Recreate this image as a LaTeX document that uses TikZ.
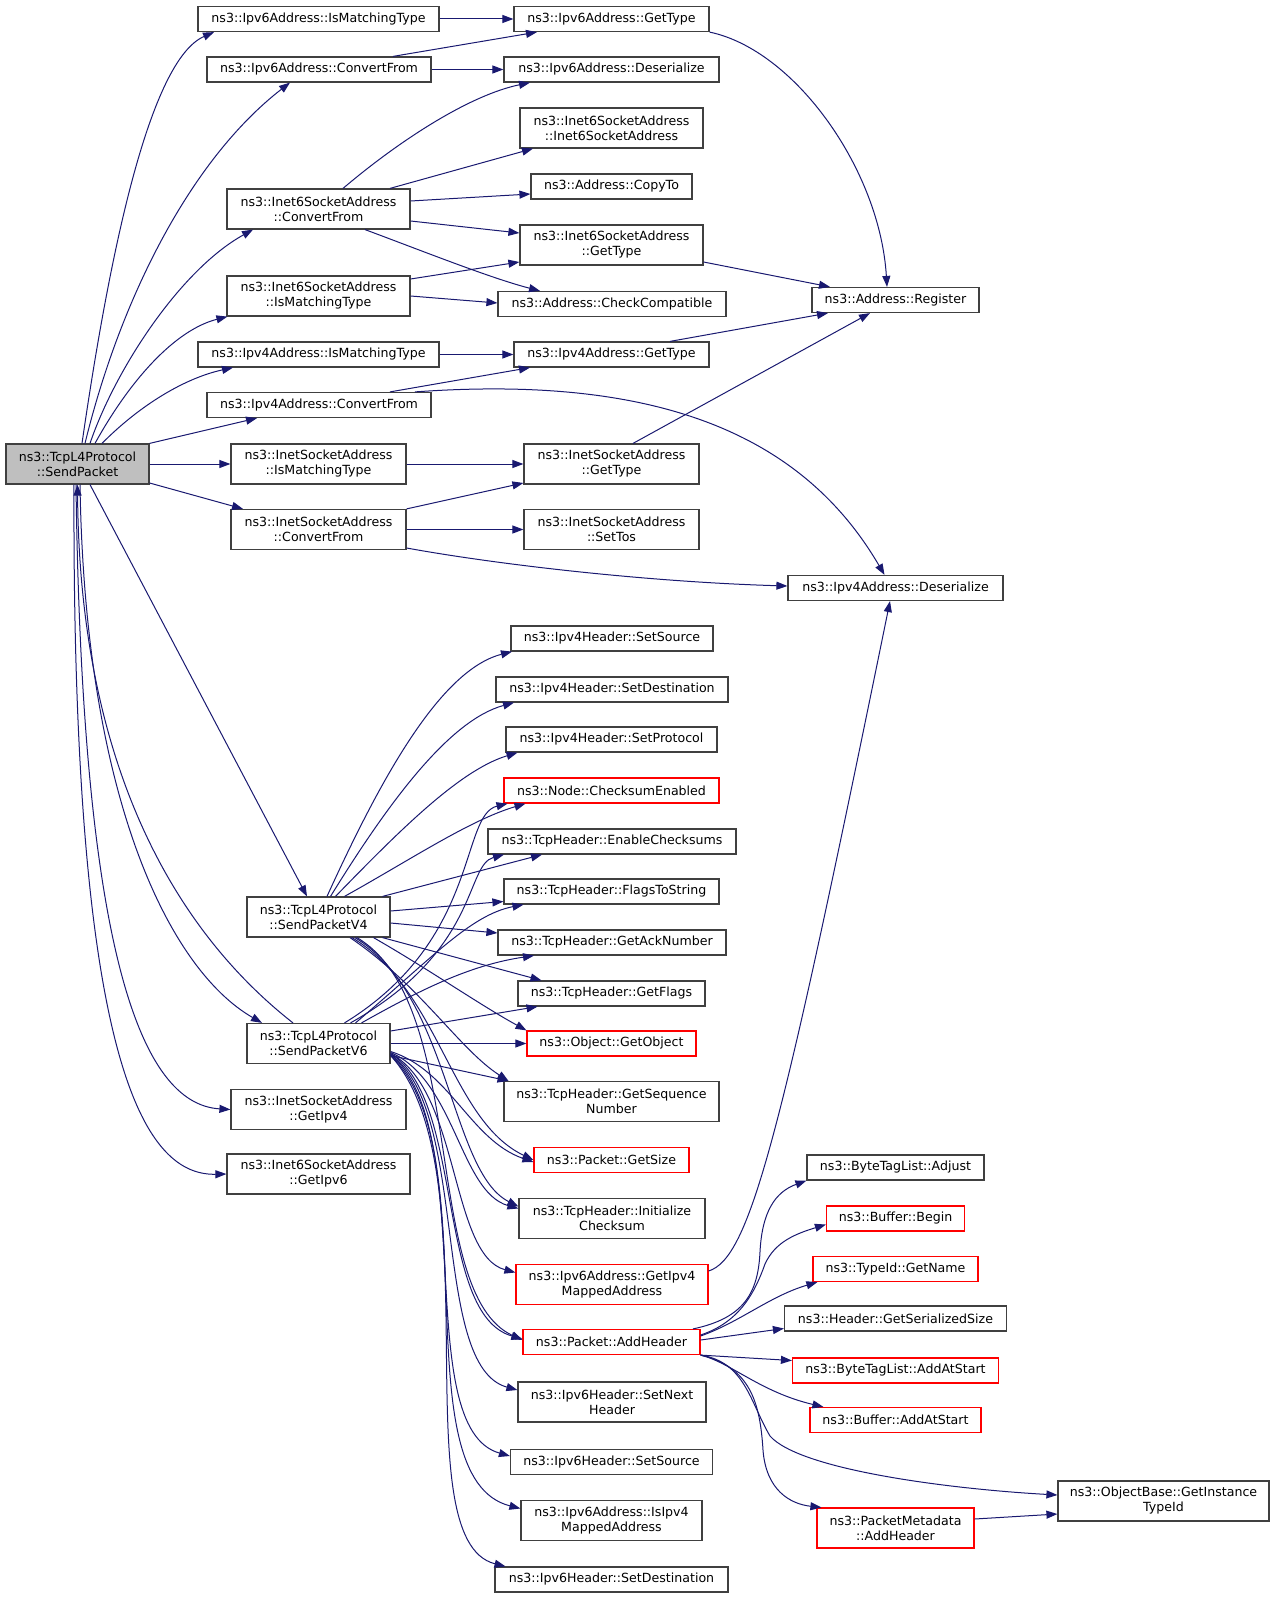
\documentclass[tikz,border=0pt]{standalone}
\usepackage{fontspec}
\setmainfont{DejaVu Sans}
\usetikzlibrary{arrows.meta}
\definecolor{edgec}{HTML}{191970}
\definecolor{boxc}{HTML}{404040}
\definecolor{redc}{HTML}{FF0000}
\definecolor{spfill}{HTML}{BFBFBF}
\begin{document}
\begin{tikzpicture}[x=1pt,y=-1pt,
  nb/.style={draw=boxc, line width=1.2pt, fill=white, inner sep=0pt, align=center,
             font=\fontsize{12.6}{15}\selectfont},
  nr/.style={nb, draw=redc},
  edg/.style={draw=edgec, line width=1pt, -{Triangle[length=11pt,width=8pt]}}]
\useasboundingbox (0,0) rectangle (1275,1597);
% ---- nodes ----
\node[nb, fill=spfill, minimum width=143pt, minimum height=40pt] (SP) at (77.5,464) {ns3::TcpL4Protocol\\::SendPacket};
\node[nb, minimum width=241pt, minimum height=25pt] (A1) at (318.5,19) {ns3::Ipv6Address::IsMatchingType};
\node[nb, minimum width=224pt, minimum height=25pt] (A2) at (319,69.5) {ns3::Ipv6Address::ConvertFrom};
\node[nb, minimum width=183pt, minimum height=40pt] (A3) at (318.5,209) {ns3::Inet6SocketAddress\\::ConvertFrom};
\node[nb, minimum width=183pt, minimum height=40pt] (A4) at (318.5,296) {ns3::Inet6SocketAddress\\::IsMatchingType};
\node[nb, minimum width=241pt, minimum height=25pt] (A5) at (318.5,354.5) {ns3::Ipv4Address::IsMatchingType};
\node[nb, minimum width=224pt, minimum height=25pt] (A6) at (319,405) {ns3::Ipv4Address::ConvertFrom};
\node[nb, minimum width=175pt, minimum height=40pt] (A7) at (318.5,464) {ns3::InetSocketAddress\\::IsMatchingType};
\node[nb, minimum width=175pt, minimum height=40pt] (A8) at (318.5,529.5) {ns3::InetSocketAddress\\::ConvertFrom};
\node[nb, minimum width=143pt, minimum height=40pt] (V4) at (318.5,917) {ns3::TcpL4Protocol\\::SendPacketV4};
\node[nb, minimum width=143pt, minimum height=40pt] (V6) at (318.5,1043.5) {ns3::TcpL4Protocol\\::SendPacketV6};
\node[nb, minimum width=175pt, minimum height=40pt] (A9) at (318.5,1109.5) {ns3::InetSocketAddress\\::GetIpv4};
\node[nb, minimum width=183pt, minimum height=40pt] (A10) at (318.5,1174) {ns3::Inet6SocketAddress\\::GetIpv6};

\node[nb, minimum width=195pt, minimum height=25pt] (B1) at (611.5,19) {ns3::Ipv6Address::GetType};
\node[nb, minimum width=215pt, minimum height=25pt] (B2) at (611.5,69.5) {ns3::Ipv6Address::Deserialize};
\node[nb, minimum width=183pt, minimum height=40pt] (B3) at (611.5,128) {ns3::Inet6SocketAddress\\::Inet6SocketAddress};
\node[nb, minimum width=161pt, minimum height=25pt] (B4) at (611.5,186.5) {ns3::Address::CopyTo};
\node[nb, minimum width=183pt, minimum height=40pt] (B5) at (611.5,245) {ns3::Inet6SocketAddress\\::GetType};
\node[nb, minimum width=228pt, minimum height=25pt] (B6) at (612,304) {ns3::Address::CheckCompatible};
\node[nb, minimum width=195pt, minimum height=25pt] (B7) at (611.5,354.5) {ns3::Ipv4Address::GetType};
\node[nb, minimum width=175pt, minimum height=40pt] (B8) at (611.5,464) {ns3::InetSocketAddress\\::GetType};
\node[nb, minimum width=175pt, minimum height=40pt] (B9) at (611.5,529.5) {ns3::InetSocketAddress\\::SetTos};
\node[nb, minimum width=167pt, minimum height=25pt] (D1) at (895.5,300) {ns3::Address::Register};
\node[nb, minimum width=215pt, minimum height=25pt] (D2) at (895.5,588) {ns3::Ipv4Address::Deserialize};

\node[nb, minimum width=202pt, minimum height=25pt] (C1) at (612,638.5) {ns3::Ipv4Header::SetSource};
\node[nb, minimum width=232pt, minimum height=25pt] (C2) at (612,689.5) {ns3::Ipv4Header::SetDestination};
\node[nb, minimum width=211pt, minimum height=25pt] (C3) at (611.5,739.5) {ns3::Ipv4Header::SetProtocol};
\node[nr, minimum width=215pt, minimum height=25pt] (C4) at (611.5,790.5) {ns3::Node::ChecksumEnabled};
\node[nb, minimum width=248pt, minimum height=25pt] (C5) at (612,841.5) {ns3::TcpHeader::EnableChecksums};
\node[nb, minimum width=215pt, minimum height=25pt] (C6) at (611.5,891.5) {ns3::TcpHeader::FlagsToString};
\node[nb, minimum width=228pt, minimum height=25pt] (C7) at (612,942.5) {ns3::TcpHeader::GetAckNumber};
\node[nb, minimum width=187pt, minimum height=25pt] (C8) at (611.5,993.5) {ns3::TcpHeader::GetFlags};
\node[nr, minimum width=169pt, minimum height=25pt] (C9) at (611.5,1043.5) {ns3::Object::GetObject};
\node[nb, minimum width=215pt, minimum height=40pt] (C10) at (611.5,1101.5) {ns3::TcpHeader::GetSequence\\Number};
\node[nr, minimum width=155pt, minimum height=25pt] (C11) at (611.5,1160) {ns3::Packet::GetSize};
\node[nb, minimum width=186pt, minimum height=40pt] (C12) at (612,1218.5) {ns3::TcpHeader::Initialize\\Checksum};
\node[nr, minimum width=192pt, minimum height=40pt] (C13) at (612,1284.5) {ns3::Ipv6Address::GetIpv4\\MappedAddress};
\node[nr, minimum width=177pt, minimum height=25pt] (C14) at (611.5,1342) {ns3::Packet::AddHeader};
\node[nb, minimum width=188pt, minimum height=40pt] (C15) at (612,1402) {ns3::Ipv6Header::SetNext\\Header};
\node[nb, minimum width=202pt, minimum height=25pt] (C16) at (611.5,1462) {ns3::Ipv6Header::SetSource};
\node[nb, minimum width=181pt, minimum height=40pt] (C17) at (611.5,1520.5) {ns3::Ipv6Address::IsIpv4\\MappedAddress};
\node[nb, minimum width=233pt, minimum height=25pt] (C18) at (611.5,1579.5) {ns3::Ipv6Header::SetDestination};

\node[nb, minimum width=177pt, minimum height=25pt] (D3) at (895.5,1167.5) {ns3::ByteTagList::Adjust};
\node[nr, minimum width=138pt, minimum height=25pt] (D4) at (895.5,1218.5) {ns3::Buffer::Begin};
\node[nr, minimum width=165pt, minimum height=25pt] (D5) at (895.5,1269) {ns3::TypeId::GetName};
\node[nb, minimum width=222pt, minimum height=25pt] (D6) at (895.5,1318.5) {ns3::Header::GetSerializedSize};
\node[nr, minimum width=206pt, minimum height=25pt] (D7) at (895.5,1370.5) {ns3::ByteTagList::AddAtStart};
\node[nr, minimum width=171pt, minimum height=25pt] (D8) at (895.5,1420) {ns3::Buffer::AddAtStart};
\node[nr, minimum width=157pt, minimum height=40pt] (D9) at (895.5,1528) {ns3::PacketMetadata\\::AddHeader};
\node[nb, minimum width=211pt, minimum height=40pt] (E1) at (1163.5,1501) {ns3::ObjectBase::GetInstance\\TypeId};

% ---- edges: column 1 to column 2 ----
\draw[edg] (A1.east) -- (B1.west);
\draw[edg] ([xshift=74pt]A2.north) -- ([xshift=-74.5pt]B1.south);
\draw[edg] (A2.east) -- (B2.west);
\draw[edg] ([xshift=24.5pt]A3.north) .. controls (400,140) and (470,95) .. ([xshift=-81.5pt]B2.south);
\draw[edg] ([xshift=71.5pt]A3.north) -- ([xshift=-78.5pt]B3.south);
\draw[edg] ([yshift=8pt]A3.east) -- ([yshift=-7.5pt]B4.west);
\draw[edg] ([yshift=-12pt]A3.east) -- ([yshift=12pt]B5.west);
\draw[edg] ([xshift=46.5pt]A3.south) .. controls (420,250) and (490,278) .. ([xshift=-72pt]B6.north);
\draw[edg] ([yshift=17pt]A4.east) -- ([yshift=-17pt]B5.west);
\draw[edg] (A4.east) -- ([yshift=1pt]B6.west);
\draw[edg] (B1.south east) .. controls (795,50) and (880,170) .. ([xshift=-8.5pt]D1.north);
\draw[edg] ([yshift=-17pt]B5.east) -- ([xshift=-65.5pt]D1.north);
\draw[edg] ([xshift=58.5pt]B7.north) -- ([xshift=-67.5pt]D1.south);
\draw[edg] ([xshift=21.5pt]B8.north) -- ([xshift=-25.5pt]D1.south);
\draw[edg] (A5.east) -- (B7.west);
\draw[edg] ([xshift=71pt]A6.north) -- ([xshift=-81.5pt]B7.south);
\draw[edg] ([xshift=96pt]A6.north) .. controls (650,375) and (800,430) .. ([xshift=-11pt]D2.north);
\draw[edg] (A7.east) -- (B8.west);
\draw[edg] (A8.north east) -- ([yshift=-19pt]B8.west);
\draw[edg] (A8.east) -- (B9.west);
\draw[edg] ([yshift=-18.5pt]A8.east) .. controls (500,565) and (650,582) .. ([yshift=2pt]D2.west);

% ---- edges from SendPacket ----
\draw[edg] ([xshift=4.5pt]SP.north) .. controls (110,250) and (150,60) .. ([xshift=-104.5pt]A1.south);
\draw[edg] ([xshift=7.5pt]SP.north) .. controls (120,300) and (190,160) .. ([xshift=-29pt]A2.south);
\draw[edg] ([xshift=12.5pt]SP.north) .. controls (115,370) and (180,270) .. ([xshift=-65.5pt]A3.south);
\draw[edg] ([xshift=17.5pt]SP.north) .. controls (130,380) and (175,330) .. ([xshift=1pt]A4.south west);
\draw[edg] ([xshift=24.5pt]SP.north) .. controls (140,405) and (185,378) .. ([xshift=-85.5pt]A5.south);
\draw[edg] (SP.north east) -- ([xshift=-62pt]A6.south);
\draw[edg] (SP.east) -- (A7.west);
\draw[edg] ([yshift=-19pt]SP.east) -- ([xshift=-75.5pt]A8.north);
\draw[edg] ([xshift=12.5pt]SP.south) -- ([xshift=-11.5pt]V4.north);
\draw[edg] ([xshift=2.5pt]SP.south) .. controls (85,800) and (170,970) .. ([xshift=-56.5pt]V6.north);
\draw[edg] ([xshift=-25.5pt]V6.north) .. controls (200,950) and (80,800) .. (SP.south);
\draw[edg] ([xshift=-1.5pt]SP.south) .. controls (82,950) and (140,1104) .. (A9.west);
\draw[edg] ([xshift=-3.5pt]SP.south) .. controls (72,1050) and (140,1176) .. (A10.west);

% ---- edges from SendPacketV4 ----
\draw[edg] ([xshift=8.5pt]V4.north) .. controls (380,780) and (440,670) .. ([xshift=-100pt]C1.south);
\draw[edg] ([xshift=12pt]V4.north) .. controls (390,800) and (450,720) .. ([xshift=-98pt]C2.south);
\draw[edg] ([xshift=17pt]V4.north) .. controls (400,830) and (460,770) .. ([xshift=-94pt]C3.south);
\draw[edg] ([xshift=26pt]V4.north) .. controls (410,860) and (470,820) .. ([xshift=-86pt]C4.south);
\draw[edg] ([xshift=64pt]V4.north) -- ([xshift=-70pt]C5.south);
\draw[edg] ([yshift=6pt]V4.east) -- ([yshift=-10pt]C6.west);
\draw[edg] ([yshift=-6pt]V4.east) -- ([yshift=9.5pt]C7.west);
\draw[edg] ([xshift=64pt]V4.south) -- ([xshift=-70pt]C8.north);
\draw[edg] ([xshift=55pt]V4.south) .. controls (430,970) and (480,1005) .. ([xshift=-85pt]C9.north);
\draw[edg] ([xshift=31.5pt]V4.south) .. controls (420,985) and (460,1050) .. ([xshift=-103pt]C10.north);
\draw[edg] ([xshift=33.5pt]V4.south) .. controls (440,990) and (450,1120) .. (C11.west);
\draw[edg] ([xshift=36.5pt]V4.south) .. controls (450,995) and (450,1172) .. ([yshift=12pt]C12.west);
\draw[edg] ([xshift=38.5pt]V4.south) .. controls (470,1005) and (420,1293) .. ([yshift=2pt]C14.west);

% ---- edges from SendPacketV6 ----
\draw[edg] ([xshift=26pt]V6.north) .. controls (480,940) and (460,815) .. ([xshift=-104pt]C4.south);
\draw[edg] ([xshift=32pt]V6.north) .. controls (480,950) and (465,865) .. ([xshift=-108pt]C5.south);
\draw[edg] ([xshift=37pt]V6.north) .. controls (430,960) and (470,915) .. ([xshift=-88pt]C6.south);
\draw[edg] ([xshift=43pt]V6.north) .. controls (420,990) and (470,965) .. ([xshift=-78pt]C7.south);
\draw[edg] ([yshift=12.5pt]V6.east) -- ([xshift=-74pt]C8.south);
\draw[edg] (V6.east) -- (C9.west);
\draw[edg] ([yshift=-12pt]V6.east) -- ([xshift=-103pt]C10.north);
\draw[edg] ([yshift=-8pt]V6.east) .. controls (450,1070) and (470,1140) .. ([yshift=-2pt]C11.west);
\draw[edg] ([yshift=-9pt]V6.east) .. controls (455,1080) and (460,1192) .. ([yshift=10pt]C12.west);
\draw[edg] ([yshift=-10pt]V6.east) .. controls (460,1090) and (450,1255) .. ([yshift=12pt]C13.west);
\draw[edg] ([yshift=-10pt]V6.east) .. controls (465,1100) and (435,1314) .. ([yshift=3pt]C14.west);
\draw[edg] ([yshift=-11pt]V6.east) .. controls (470,1110) and (430,1366) .. ([yshift=12pt]C15.west);
\draw[edg] ([yshift=-11pt]V6.east) .. controls (480,1130) and (410,1428) .. ([yshift=6pt]C16.west);
\draw[edg] ([yshift=-12pt]V6.east) .. controls (490,1150) and (400,1478) .. ([yshift=12pt]C17.west);
\draw[edg] ([yshift=-12pt]V6.east) .. controls (495,1170) and (400,1540) .. ([xshift=-106pt]C18.north);

% ---- right part ----
\draw[edg] ([yshift=13.5pt]C13.east) .. controls (750,1258) and (780,1140) .. ([xshift=-5.5pt]D2.south);
\draw[edg] ([xshift=81.5pt]C14.north) .. controls (745,1318) and (758,1292) .. (760,1252) .. controls (762,1212) and (775,1192) .. (D3.south west);
\draw[edg] ([yshift=7pt]C14.east) .. controls (740,1322) and (755,1292) .. (765,1264) .. controls (775,1242) and (795,1234) .. ([yshift=-6pt]D4.west);
\draw[edg] ([yshift=6pt]C14.east) .. controls (740,1322) and (770,1296) .. ([xshift=5pt]D5.south west);
\draw[edg] ([yshift=2pt]C14.east) -- ([yshift=-10pt]D6.west);
\draw[edg] (C14.south east) -- ([yshift=10pt]D7.west);
\draw[edg] (C14.south east) .. controls (730,1362) and (760,1392) .. ([xshift=14pt]D8.north west);
\draw[edg] (C14.south east) .. controls (745,1362) and (750,1402) .. (770,1436) .. controls (800,1470) and (950,1489) .. ([yshift=6pt]E1.west);
\draw[edg] (C14.south east) .. controls (750,1367) and (760,1402) .. (763,1450) .. controls (766,1490) and (790,1504) .. ([xshift=5pt]D9.north west);
\draw[edg] ([yshift=9pt]D9.east) -- ([yshift=-13pt]E1.west);
\end{tikzpicture}
\end{document}
